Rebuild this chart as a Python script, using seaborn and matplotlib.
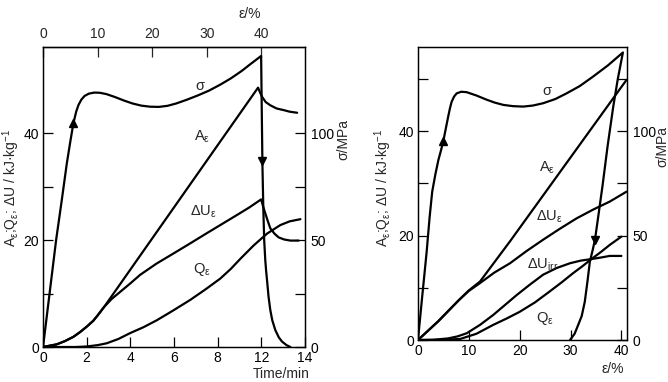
import matplotlib
matplotlib.use("Agg")
import matplotlib.pyplot as plt
import seaborn as sns

# ---------------- data: left panel (x = time position, minutes) ----------------
time_pos = [0, 2, 4, 6, 8, 10, 12]
time_labels = ["0", "2", "4", "6", "8", "12", "14"]
strain_top_ticks = [0, 10, 20, 30, 40]
strain_per_min = 4.0

sigL_t = [0, 0.3, 0.6, 0.86, 1.09, 1.25, 1.39, 1.52, 1.62, 1.75, 1.9, 2.1, 2.35,
          2.6, 2.9, 3.3, 3.7, 4.1, 4.5, 4.9, 5.3, 5.7, 6.1, 6.6, 7.1, 7.6, 8.1,
          8.6, 9.1, 9.5, 9.99,
          10.02, 10.05, 10.09, 10.13, 10.18, 10.22, 10.26, 10.33, 10.41, 10.5,
          10.64, 10.8, 10.95, 11.15, 11.33]
sigL = [0, 25, 50, 68.7, 85.8, 96, 104.5, 110, 113, 115.5, 117.3, 118.4, 118.9,
        118.8, 118.2, 116.8, 115.2, 113.8, 112.8, 112.3, 112.2, 112.7, 113.8, 115.6,
        117.6, 119.8, 122.5, 125.5, 129, 132.2, 136,
        110, 85, 65, 50, 40.6, 35.5, 31.3, 23.5, 17.3, 12.5,
        7.9, 4.5, 2.5, 0.9, 0]

AL_t = [0, 0.63, 1.0, 1.39, 1.7, 2.0, 2.3, 2.5, 2.8, 9.85, 9.92, 10.03, 10.2,
        10.41, 10.7, 11.02, 11.3, 11.64]
AL = [0, 0.5, 1.1, 1.9, 2.8, 3.8, 4.9, 5.9, 7.5, 48.5, 47.8, 46.8, 45.8,
      45.2, 44.6, 44.3, 44.0, 43.8]

UL_t = [0, 0.63, 1.0, 1.39, 1.7, 2.0, 2.3, 2.5, 2.8, 3.15, 3.53, 4.0, 4.45, 5.2,
        5.98, 6.75, 7.51, 8.2, 8.89, 9.45, 9.99, 10.08, 10.18, 10.3, 10.41, 10.6,
        10.79, 11.05, 11.33, 11.71]
UL = [0, 0.5, 1.1, 1.9, 2.8, 3.8, 4.9, 5.9, 7.5, 9.0, 10.3, 11.9, 13.5, 15.6,
      17.5, 19.4, 21.3, 23.0, 24.7, 26.1, 27.6, 26.3, 25.0, 23.5, 22.2, 21.2,
      20.5, 20.1, 19.9, 19.9]

QL_t = [0, 1.5, 2.0, 2.5, 2.92, 3.45, 3.99, 4.6, 5.21, 5.95, 6.74, 7.45, 8.12,
        8.6, 9.04, 9.65, 10.26, 10.87, 11.3, 11.79]
QL = [0, 0, 0.1, 0.35, 0.7, 1.5, 2.6, 3.7, 5.0, 6.8, 8.8, 10.8, 12.8,
      14.6, 16.5, 19.0, 21.2, 22.8, 23.5, 23.9]

arrowL_t = [1.39, 10.05]
arrowL_sig = [104.5, 87.0]
arrowL_dir = ["^", "v"]

labelsL_text = ["σ", r"A$_{\mathregular{ε}}$", r"ΔU$_{\mathregular{ε}}$", r"Q$_{\mathregular{ε}}$"]
labelsL_x = [7.2, 7.28, 7.35, 7.28]
labelsL_y = [48.8, 39.3, 25.3, 14.4]

# ---------------- data: right panel (x = strain, %) ----------------
strain_ticks = [0, 10, 20, 30, 40]

sigR_e = [0, 0.8, 1.7, 2.3, 2.8, 3.4, 4.0, 4.5, 4.97, 5.5, 5.95, 6.3, 6.62, 7.1,
          7.6, 8.5, 9.57, 11.5, 13.5, 15.1, 16.8, 18.7, 20.7, 22.6, 24.6, 27.0,
          29.2, 31.8, 34.4, 37.4, 40.3,
          39.3, 38.4, 37.3, 36.3, 35.5, 34.8, 34.3, 33.8, 33.3, 32.8, 32.2, 31.5,
          30.8, 29.9]
sigR = [0, 20, 42, 59, 71, 79, 86, 90.5, 95, 101.5, 107, 111, 114, 116.5,
        118, 118.8, 118.6, 117, 115, 113.6, 112.5, 111.9, 111.7, 112.2, 113.3, 115.3,
        118, 121.5, 126, 131.5, 137.6,
        125, 111.7, 93, 74, 60, 47.9, 42.5, 37.5, 27.5, 18.3, 11.5, 7.2,
        3, 0]

AR_e = [0, 4.0, 8.0, 10.0, 12.2, 18.1, 41.0]
AR = [0, 3.6, 7.6, 9.5, 11.2, 18.9, 49.8]

UR_e = [0, 4.0, 8.0, 10.0, 12.2, 15.0, 18.1, 21.3, 24.6, 27.9, 31.2, 34.5, 37.7, 41.0]
UR = [0, 3.6, 7.6, 9.4, 10.9, 12.9, 14.7, 17.0, 19.2, 21.3, 23.3, 25.0, 26.5, 28.4]

UirrR_e = [0, 3.0, 5.9, 7.8, 9.6, 12.2, 14.8, 17.1, 19.4, 22.0, 24.6, 27.3, 29.9,
           32.0, 34.1, 36.0, 37.7, 40.0]
UirrR = [0, 0.05, 0.3, 0.7, 1.3, 2.9, 4.8, 6.7, 8.6, 10.6, 12.5, 13.8, 14.7,
         15.2, 15.5, 15.8, 16.1, 16.1]

QR_e = [0, 4.0, 8.3, 11.5, 14.8, 17.4, 20.0, 23.0, 25.9, 28.2, 30.5, 32.3, 34.1,
        35.9, 37.7, 40.0]
QR = [0, 0.02, 0.2, 1.2, 2.9, 4.1, 5.4, 7.2, 9.3, 11.0, 12.8, 14.1, 15.5,
      16.8, 18.2, 19.8]

arrowR_e = [4.97, 34.8]
arrowR_sig = [95, 47.9]
arrowR_dir = ["^", "v"]

labelsR_text = ["σ", r"A$_{\mathregular{ε}}$", r"ΔU$_{\mathregular{ε}}$",
                r"ΔU$_{\mathregular{irr}}$", r"Q$_{\mathregular{ε}}$"]
labelsR_x = [25.3, 25.5, 25.9, 24.6, 25.0]
labelsR_y = [47.6, 33.0, 23.6, 14.4, 4.2]

# ---------------- style ----------------
sns.set_style("ticks")
plt.rcParams["font.family"] = ["Liberation Sans", "DejaVu Sans"]
plt.rcParams["mathtext.fontset"] = "dejavusans"
plt.rcParams["axes.linewidth"] = 0.9

LW = 1.6
FS = 10
ylabel_txt = r"A$_{\mathregular{ε}}$;Q$_{\mathregular{ε}}$; ΔU / kJ·kg$^{\mathregular{-1}}$"

fig = plt.figure(figsize=(6.68, 3.82), dpi=100)
axL = fig.add_axes([0.0644, 0.0916, 0.3922, 0.7854])
axR = fig.add_axes([0.6257, 0.1099, 0.3129, 0.767])
axL2 = axL.twinx()
axR2 = axR.twinx()


def line(ax, x, y):
    sns.lineplot(x=x, y=y, ax=ax, sort=False, estimator=None, color="black",
                 linewidth=LW, legend=False)


# left panel
line(axL, AL_t, AL)
line(axL, UL_t, UL)
line(axL, QL_t, QL)
line(axL2, sigL_t, sigL)
for xv, yv, m in zip(arrowL_t, arrowL_sig, arrowL_dir):
    axL2.plot([xv], [yv], marker=m, color="black", markersize=6, linestyle="none")
for t, x, y in zip(labelsL_text, labelsL_x, labelsL_y):
    axL.text(x, y, t, ha="center", va="center", fontsize=FS + 0.5)

# right panel
line(axR, AR_e, AR)
line(axR, UR_e, UR)
line(axR, UirrR_e, UirrR)
line(axR, QR_e, QR)
line(axR2, sigR_e, sigR)
for xv, yv, m in zip(arrowR_e, arrowR_sig, arrowR_dir):
    axR2.plot([xv], [yv], marker=m, color="black", markersize=6, linestyle="none")
for t, x, y in zip(labelsR_text, labelsR_x, labelsR_y):
    axR.text(x, y, t, ha="center", va="center", fontsize=FS + 0.5)

# axes limits
axL.set_xlim(0, 12)
axL.set_ylim(0, 56.1)
axL2.set_ylim(0, 140.2)
axR.set_xlim(0, 41.1)
axR.set_ylim(0, 56.1)
axR2.set_ylim(0, 140.2)

# ticks
for ax in (axL, axR, axL2, axR2):
    ax.tick_params(direction="in", length=7, width=0.9, labelsize=FS, pad=3,
                   colors="black")
    for s in ax.spines.values():
        s.set_visible(True)
        s.set_color("black")
        s.set_linewidth(0.9)
    ax.set_xlabel("")
    ax.set_ylabel("")
for ax in (axL2, axR2):
    ax.tick_params(axis="y", pad=4)

axL.set_xticks(time_pos)
axL.set_xticklabels(time_labels)
axL.set_yticks([0, 10, 20, 30, 40])
axL.set_yticklabels(["0", "", "20", "", "40"])
axL2.set_yticks([0, 25, 50, 75, 100])
axL2.set_yticklabels(["0", "", "50", "", "100"])

top = axL.secondary_xaxis("top", functions=(lambda t: t * strain_per_min,
                                            lambda e: e / strain_per_min))
top.set_xticks(strain_top_ticks)
top.tick_params(direction="in", length=7, width=0.9, labelsize=FS, pad=4)
top.spines["top"].set_linewidth(0.9)

axR.set_xticks(strain_ticks)
axR.set_yticks([0, 10, 20, 30, 40, 50])
axR.set_yticklabels(["0", "", "20", "", "40", ""])
axR2.set_yticks([0, 25, 50, 75, 100, 125])
axR2.set_yticklabels(["0", "", "50", "", "100", ""])

# axis titles
axL.text(0.79, 1.11, "ε/%", transform=axL.transAxes, ha="center", va="center",
         fontsize=FS)
axL.text(0.91, -0.09, "Time/min", transform=axL.transAxes, ha="center",
         va="center", fontsize=FS)
axL.text(-0.12, 0.53, ylabel_txt, transform=axL.transAxes, rotation=90,
         ha="center", va="center", fontsize=FS)
axL.text(1.145, 0.69, "σ/MPa", transform=axL.transAxes, rotation=90,
         ha="center", va="center", fontsize=FS)

axR.text(0.93, -0.10, "ε/%", transform=axR.transAxes, ha="center", va="center",
         fontsize=FS)
axR.text(-0.165, 0.52, ylabel_txt, transform=axR.transAxes, rotation=90,
         ha="center", va="center", fontsize=FS)
axR.text(1.17, 0.66, "σ/MPa", transform=axR.transAxes, rotation=90,
         ha="center", va="center", fontsize=FS)

fig.savefig("out.png", dpi=100, facecolor="white")
